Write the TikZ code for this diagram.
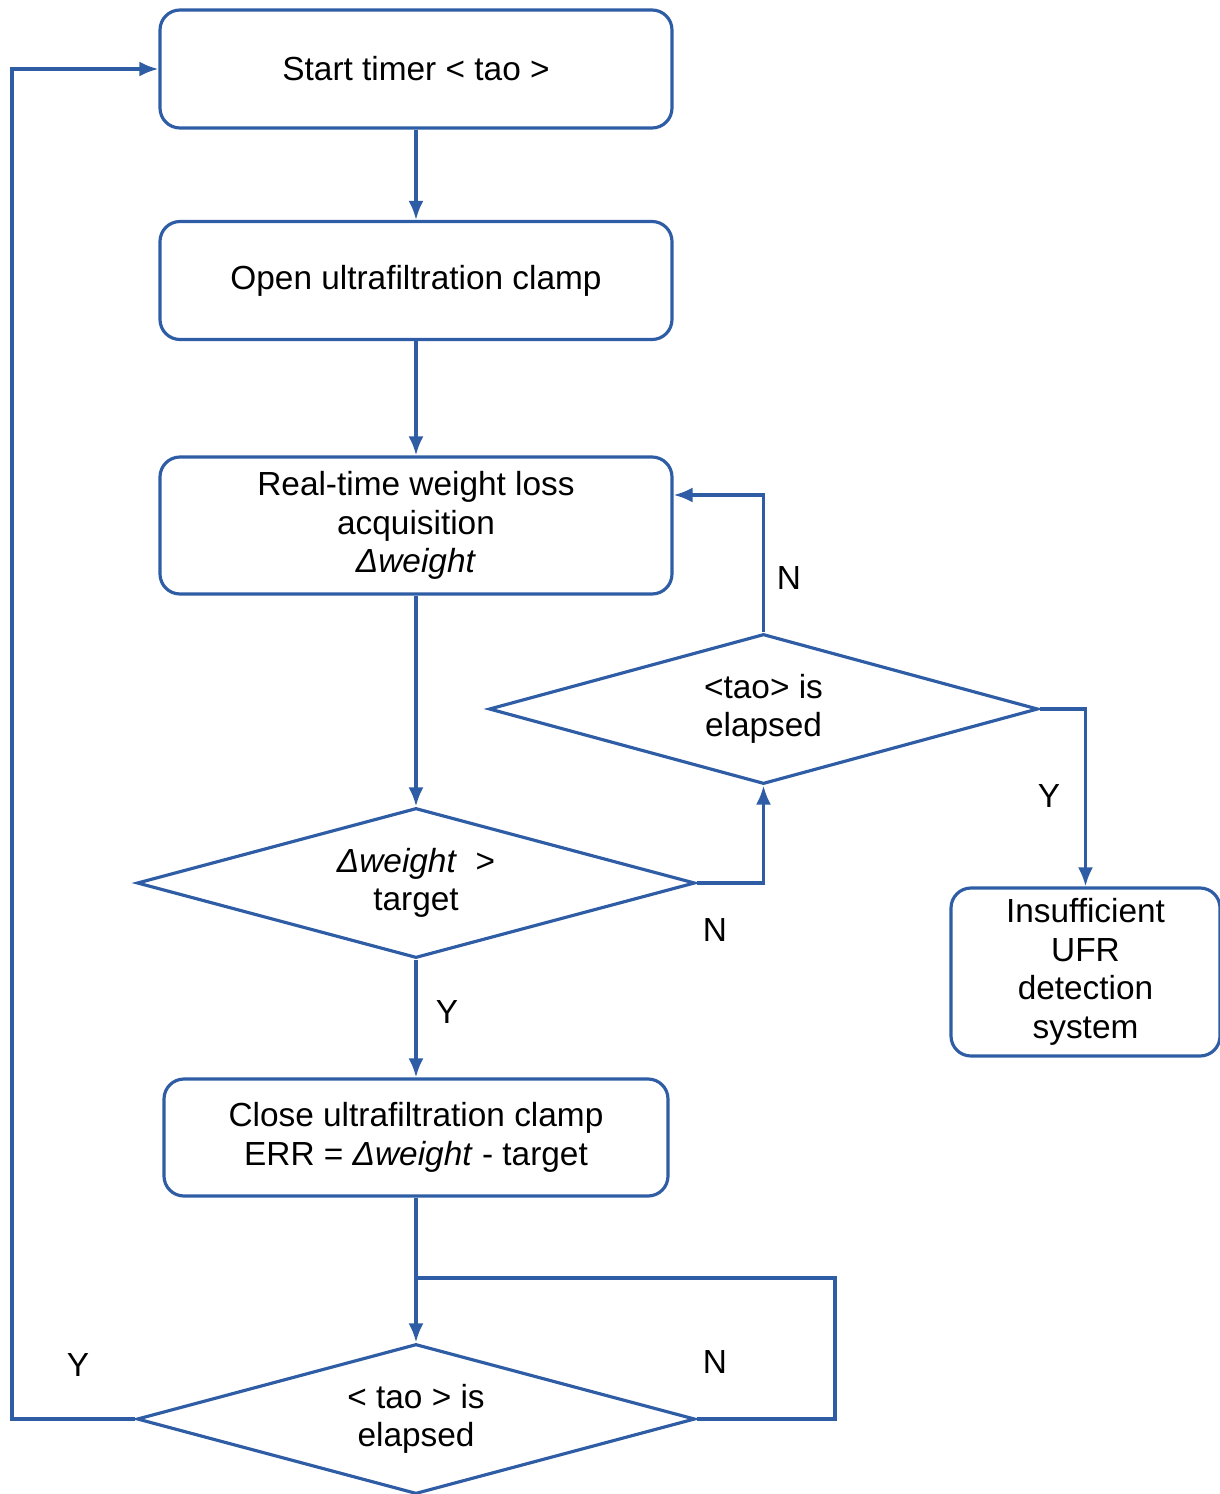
\documentclass[tikz,border=0pt]{standalone}
\usepackage{fontspec}
\setmainfont{Liberation Sans}
\usepackage{tikz}
\usetikzlibrary{arrows.meta, positioning, calc, shapes.geometric}
\definecolor{flowblue}{HTML}{2E5DA5}
\newcommand{\dw}{\textit{Δweight}}

\begin{document}
\begin{tikzpicture}[
  line width=1.8pt,
  box/.style={draw=flowblue, rounded corners=0.4cm, align=center,
              minimum width=10.24cm, minimum height=2.36cm, inner sep=2pt,
              font=\fontsize{19}{22}\selectfont},
  decision/.style={draw=flowblue, diamond, aspect=3.7, align=center,
              minimum width=11.16cm, minimum height=3cm, inner sep=0pt,
              font=\fontsize{19}{22}\selectfont},
  lbl/.style={font=\fontsize{19}{22}\selectfont},
  >={Latex[length=0.38cm, width=0.3cm]}]
\useasboundingbox (0,0) rectangle (24.4,-29.88);
\node[box] (start) at (8.32,-1.38) {Start timer < tao >};
\node[box] (open)  at (8.32,-5.61) {Open ultrafiltration clamp};
\node[box, minimum height=2.74cm] (acq) at (8.32,-10.51)
  {Real-time weight loss\\ acquisition\\ \dw};
\node[decision] (cmp) at (8.32,-17.66) {\dw\ \ >\\ target};
\node[decision, minimum width=10.98cm] (tao1) at (15.27,-14.18)
  {<tao> is\\ elapsed};
\node[box, minimum width=5.38cm, minimum height=3.36cm] (ufr) at (21.71,-19.44)
  {Insufficient\\ UFR\\ detection\\ system};
\node[box, minimum width=10.08cm, minimum height=2.34cm] (close) at (8.32,-22.75)
  {Close ultrafiltration clamp\\ ERR = \dw\ - target};
\node[decision] (tao2) at (8.32,-28.38) {< tao > is\\ elapsed};
\coordinate (join)  at (8.32,-25.56);
\coordinate (nloop) at (16.7,-25.56);
\coordinate (yloop) at (0.24,-28.38);
\node[lbl] (n1) at (15.78,-11.56) {N};
\node[lbl] (n2) at (14.3,-18.6) {N};
\node[lbl] (y1) at (20.98,-15.92) {Y};
\node[lbl] (y2) at (8.94,-20.24) {Y};
\node[lbl] (n3) at (14.3,-27.24) {N};
\node[lbl] (y3) at (1.56,-27.3) {Y};
\begin{scope}[draw=flowblue]
\draw[->] (start) -- (open);
\draw[->] (open) -- (acq);
\draw[->] (acq) -- (cmp);
\draw[->] (cmp.east) -| (tao1.south);
\draw[->] (tao1.north) |- ([yshift=6.1mm]acq.east);
\draw[->] (tao1.east) -| (ufr.north);
\draw[->] (cmp) -- (close);
\draw[->] (close) -- (tao2);
\draw (tao2.east) -| (nloop) -- (join);
\draw[->] (tao2.west) -- (yloop) |- (start.west);
\end{scope}
\end{tikzpicture}
\end{document}
